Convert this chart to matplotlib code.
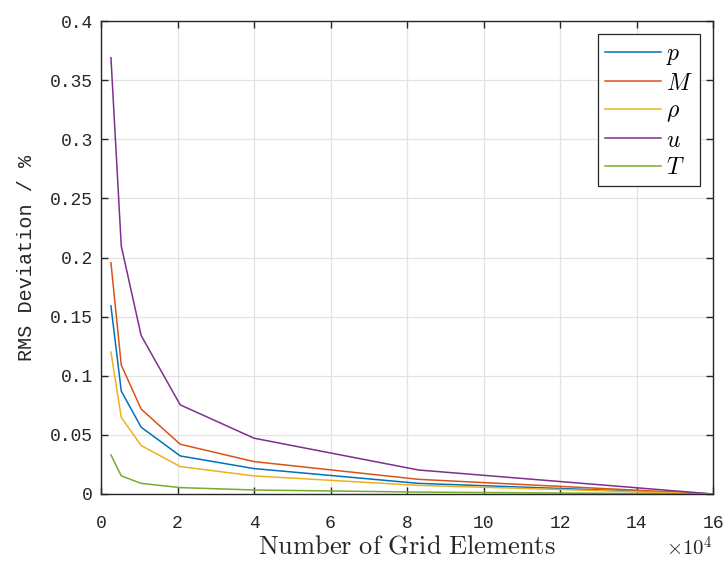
import numpy as np
import matplotlib.pyplot as plt
from matplotlib.ticker import FuncFormatter, MultipleLocator

plt.rcParams['mathtext.fontset'] = 'cm'

# Grid refinement study: RMS deviation from the finest grid
elements = [2600, 5300, 10500, 20700, 40000, 83000, 160000]
rms_p = [0.159, 0.087, 0.0565, 0.0322, 0.0215, 0.0090, 0.0]
rms_M = [0.1955, 0.109, 0.0718, 0.0421, 0.0274, 0.0124, 0.0]
rms_rho = [0.120, 0.0647, 0.0410, 0.0232, 0.0153, 0.0073, 0.0]
rms_u = [0.369, 0.2096, 0.134, 0.0754, 0.0472, 0.0203, 0.0]
rms_T = [0.033, 0.0153, 0.0090, 0.0054, 0.0034, 0.0016, 0.0]

fig = plt.figure(figsize=(7.28, 5.62), dpi=100)
ax = fig.add_axes([101 / 728, 68 / 562, 612 / 728, 473 / 562])

series = [
    (rms_p, '#0072BD', r'$p$'),
    (rms_M, '#D95319', r'$M$'),
    (rms_rho, '#EDB120', r'$\rho$'),
    (rms_u, '#7E2F8E', r'$u$'),
    (rms_T, '#77AC30', r'$T$'),
]
for vals, col, lab in series:
    ax.plot(elements, vals, color=col, lw=1.1, label=lab)

ax.set_xlim(0, 160000)
ax.set_ylim(0, 0.4)
ax.xaxis.set_major_locator(MultipleLocator(20000))
ax.yaxis.set_major_locator(MultipleLocator(0.05))
ax.xaxis.set_major_formatter(FuncFormatter(lambda v, _: '%g' % (v / 1e4)))
ax.yaxis.set_major_formatter(FuncFormatter(lambda v, _: '%g' % round(v, 3)))

ax.grid(True, color='#e3e3e3', lw=0.9)
ax.set_axisbelow(True)
ax.tick_params(direction='in', length=5, width=1, color='#262626',
               labelcolor='#262626', top=True, right=True)
ax.tick_params(axis='x', pad=15)
ax.tick_params(axis='y', pad=6)
for lbl in ax.get_xticklabels() + ax.get_yticklabels():
    lbl.set_fontfamily('Liberation Mono')
    lbl.set_fontsize(13)
for sp in ax.spines.values():
    sp.set_color('#262626')
    sp.set_linewidth(1)

ax.set_ylabel('RMS Deviation / %', family='Liberation Mono', fontsize=14.5,
              color='#262626', labelpad=10)
ax.set_xlabel(r'$\mathrm{Number\ of\ Grid\ Elements}$', fontsize=19,
              color='#262626', labelpad=1)
ax.text(1.0, -0.088, r'$\times10^4$', transform=ax.transAxes, ha='right',
        va='top', fontsize=15, color='#262626')

leg = ax.legend(loc='upper right', fontsize=17, handlelength=2.4,
                borderaxespad=0.55, fancybox=False, framealpha=1,
                edgecolor='#262626', labelspacing=0.15, handletextpad=0.2,
                borderpad=0.3)
leg.get_frame().set_linewidth(0.9)

fig.savefig('out.png', dpi=100)
